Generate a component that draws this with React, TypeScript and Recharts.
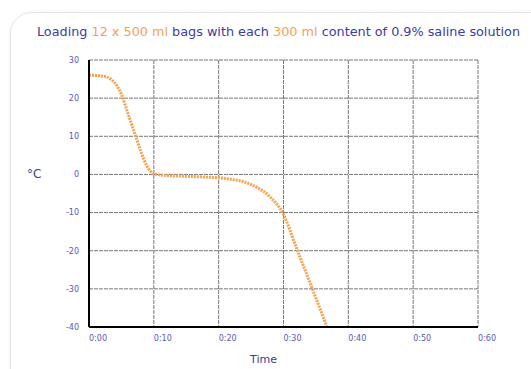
import { LineChart, Line, XAxis, YAxis, CartesianGrid } from "recharts"

// minutes since loading
const times = [0, 2, 3.5, 5, 6, 7, 8, 9, 10, 12, 15, 18, 20, 22, 24, 26, 28, 30, 32, 34, 36.7]
// product temperature, °C
const temps = [26, 25.8, 24.8, 21, 16, 11, 6, 2, 0.2, -0.3, -0.5, -0.7, -0.9, -1.3, -2, -3.5, -6, -10.5, -19.3, -28, -40]

const xTicks = [0, 10, 20, 30, 40, 50, 60]
const yTicks = [-40, -30, -20, -10, 0, 10, 20, 30]

const data = times.map((t, i) => ({ t, temp: temps[i] }))

const blue = "#3c3ca0"
const orange = "#f3a250"
const font = "DejaVu Sans, Verdana, sans-serif"
const tickStyle = { fill: "#5a5ab4", fontSize: 8, fontFamily: font }

export default function App() {
  return (
    <div style={{ position: "absolute", left: 0, top: 0, width: 531, height: 369, background: "#fff", overflow: "hidden" }}>
      <div
        style={{
          position: "absolute",
          left: 10,
          top: 12,
          width: 540,
          height: 380,
          borderRadius: 22,
          border: "1px solid #e6e6e6",
          boxShadow: "0 0 4px rgba(0,0,0,0.06)",
        }}
      />
      <div
        style={{
          position: "absolute",
          left: 0,
          top: 24,
          width: 557,
          textAlign: "center",
          fontFamily: font,
          fontSize: 12.8,
          color: blue,
          whiteSpace: "nowrap",
        }}
      >
        Loading <span style={{ color: orange }}>12 x 500 ml</span> bags with each{" "}
        <span style={{ color: orange }}>300 ml</span> content of 0.9% saline solution
      </div>
      <div
        style={{
          position: "absolute",
          left: 27,
          top: 167,
          fontFamily: font,
          fontSize: 12,
          color: blue,
        }}
      >
        °C
      </div>
      <div style={{ position: "absolute", left: 0, top: 0 }}>
        <LineChart width={531} height={369} data={data} margin={{ top: 60, right: 53, bottom: 6, left: 29 }}>
          <CartesianGrid stroke="#777" strokeDasharray="4 1" />
          <XAxis
            dataKey="t"
            type="number"
            domain={[0, 60]}
            ticks={xTicks}
            tickFormatter={(v: number) => `0:${v === 0 ? "00" : v}`}
            tick={{ ...tickStyle, textAnchor: "start" }}
            tickLine={false}
            tickMargin={2}
            height={36}
            axisLine={{ stroke: "#000", strokeWidth: 2 }}
            label={{ value: "Time", position: "insideBottom", offset: 0, dx: -20, fill: blue, fontSize: 11, fontFamily: font }}
          />
          <YAxis
            type="number"
            domain={[-40, 30]}
            ticks={yTicks}
            tick={tickStyle}
            tickLine={false}
            tickMargin={4}
            width={60}
            axisLine={{ stroke: "#000", strokeWidth: 2 }}
          />
          <Line
            type="monotone"
            dataKey="temp"
            stroke={orange}
            strokeWidth={3}
            strokeDasharray="2 1"
            dot={false}
            isAnimationActive={false}
          />
        </LineChart>
      </div>
    </div>
  )
}
